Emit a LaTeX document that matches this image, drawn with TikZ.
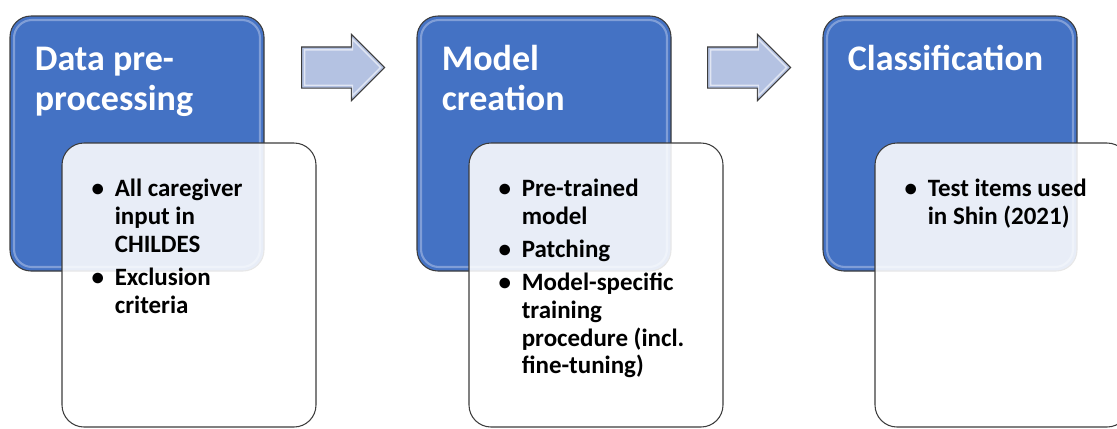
\documentclass[tikz,border=0pt]{standalone}
\usepackage{fontspec}
\setmainfont{Carlito}
\usetikzlibrary{shapes.arrows,positioning}
\definecolor{stageblue}{RGB}{68,114,196}
\definecolor{bevelblue}{RGB}{143,170,220}
\definecolor{arrowfill}{RGB}{180,194,226}
\definecolor{edgegray}{RGB}{60,60,60}

% bullet and hanging indent for the item lists
\newcommand{\bitem}{\makebox[0.68cm][c]{\textbullet}}
\newcommand{\bcont}{\hspace*{0.68cm}}
% lines hung from the baseline of the first one
\newcommand{\stack}[1]{\begin{tabular}[t]{@{}l@{}}#1\end{tabular}}

\begin{document}
\begin{tikzpicture}[
  stage/.style={draw=edgegray, line width=0.6pt, fill=stageblue, rounded corners=0.42cm,
  minimum width=5.08cm, minimum height=5.10cm, inner sep=0pt},
  bevel/.style={draw=bevelblue, line width=1.2pt, draw opacity=0.8, rounded corners=0.36cm,
  minimum width=4.92cm, minimum height=4.94cm, inner sep=0pt},
  detail/.style={draw=edgegray, line width=0.6pt, fill=white, fill opacity=0.88,
  rounded corners=0.44cm, minimum width=5.08cm, minimum height=5.68cm, inner sep=0pt},
  title/.style={anchor=base west, inner sep=0pt, text=white,
  font=\bfseries\fontsize{20.5}{22.8}\selectfont},
  items/.style={anchor=base west, inner sep=0pt, text=black,
  font=\bfseries\fontsize{14.2}{15.9}\selectfont},
  flow/.style={single arrow, draw=edgegray, line width=0.6pt, fill=arrowfill, anchor=tail,
  minimum height=1.66cm, single arrow head extend=0.25cm, inner xsep=0pt, inner ysep=0.4cm},
  flowshine/.style={single arrow, draw=white, draw opacity=0.6, line width=0.8pt, anchor=tail,
  minimum height=1.52cm, single arrow head extend=0.21cm, inner xsep=0pt, inner ysep=0.34cm}
]
\useasboundingbox (0,0) rectangle (22.34,-8.56);

% stage 1
\node[stage] (prep) at (2.74,-2.87) {};
\node[bevel] at (prep.center) {};
\node[title] (prept) at ([shift={(0.50,-1.10)}]prep.north west) {\stack{Data pre-\\processing}};
\node[detail] (prepd) at (3.78,-5.70) {};
\node[items] (prepi) at ([shift={(0.38,-1.08)}]prepd.north west)
  {\stack{\bitem All caregiver\\ \bcont input in\\ \bcont CHILDES\\[2.8pt]
   \bitem Exclusion\\ \bcont criteria}};

\node[flow] (next1) at (6.02,-1.35) {};
\node[flowshine] at ([xshift=0.06cm]next1.tail) {};

% stage 2
\node[stage] (model) at (10.88,-2.87) {};
\node[bevel] at (model.center) {};
\node[title] (modelt) at ([shift={(0.50,-1.10)}]model.north west) {\stack{Model\\creation}};
\node[detail] (modeld) at (11.92,-5.70) {};
\node[items] (modeli) at ([shift={(0.38,-1.08)}]modeld.north west)
  {\stack{\bitem Pre-trained\\ \bcont model\\[2.8pt]
   \bitem Patching\\[2.8pt]
   \bitem Model-specific\\ \bcont training\\ \bcont procedure (incl.\\ \bcont fine-tuning)}};

\node[flow] (next2) at (14.14,-1.35) {};
\node[flowshine] at ([xshift=0.06cm]next2.tail) {};

% stage 3
\node[stage] (cls) at (19.00,-2.87) {};
\node[bevel] at (cls.center) {};
\node[title] (clst) at ([shift={(0.50,-1.10)}]cls.north west) {Classification};
\node[detail] (clsd) at (20.04,-5.70) {};
\node[items] (clsi) at ([shift={(0.38,-1.08)}]clsd.north west)
  {\stack{\bitem Test items used\\ \bcont in Shin (2021)}};
\end{tikzpicture}
\end{document}
